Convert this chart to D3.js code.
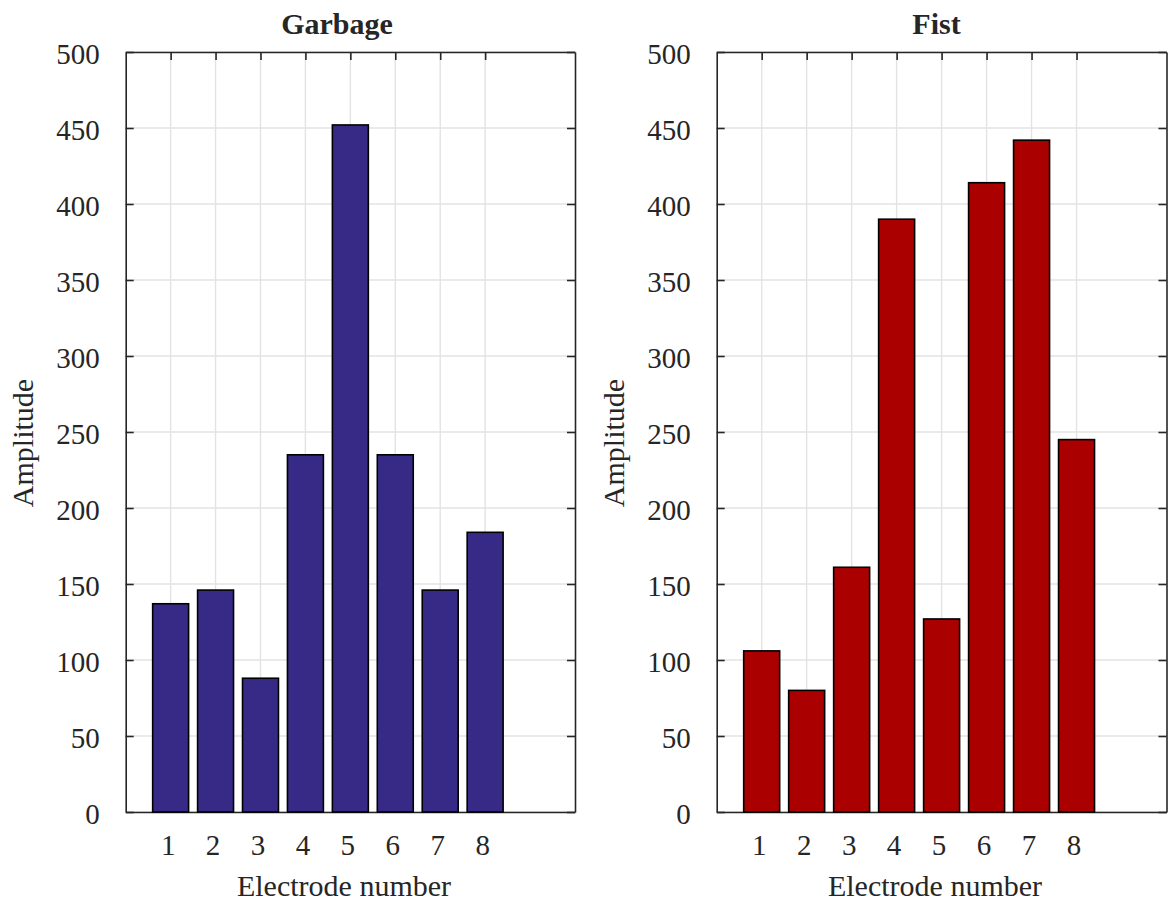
<!DOCTYPE html>
<html>
<head>
<meta charset="utf-8">
<script src="https://cdn.jsdelivr.net/npm/d3@7"></script>
<style>
  html, body { margin: 0; padding: 0; background: #fff; }
  svg { display: block; }
  text { font-family: "Liberation Serif", "Times New Roman", serif; fill: #262626; }
</style>
</head>
<body>
<svg id="chart" width="1169" height="903"></svg>
<script>
// Electrode indices and mean amplitude per electrode for each gesture
const electrodes = [1, 2, 3, 4, 5, 6, 7, 8];
const garbageAmp = [137, 146, 88, 235, 452, 235, 146, 184];
const fistAmp = [106, 80, 161, 390, 127, 414, 442, 245];
const yTicks = [0, 50, 100, 150, 200, 250, 300, 350, 400, 450, 500];
const titles = ["Garbage", "Fist"];
const xLabel = "Electrode number";
const yLabel = "Amplitude";

const svg = d3.select("#chart");
const FONT = 29;
const LABEL_FONT = 30;
const axisColor = "#262626";
const gridColor = "#e3e3e3";

const panels = [
  { left: 125.7, right: 575, values: garbageAmp, color: "#372a87", title: titles[0], titleX: 337, xLabelX: 344, yLabelX: 33 },
  { left: 716.7, right: 1166.5, values: fistAmp, color: "#aa0000", title: titles[1], titleX: 936.5, xLabelX: 935, yLabelX: 623.5 }
];
const plotTop = 52, plotBottom = 812;

panels.forEach(p => {
  const x = d3.scaleLinear().domain([0, 10]).range([p.left, p.right]);
  const y = d3.scaleLinear().domain([0, 500]).range([plotBottom, plotTop]);
  const g = svg.append("g");

  // grid
  g.append("g").selectAll("line").data(electrodes).join("line")
    .attr("x1", d => x(d)).attr("x2", d => x(d))
    .attr("y1", plotTop).attr("y2", plotBottom)
    .attr("stroke", gridColor).attr("stroke-width", 1.4);
  g.append("g").selectAll("line").data(yTicks).join("line")
    .attr("x1", p.left).attr("x2", p.right)
    .attr("y1", d => y(d)).attr("y2", d => y(d))
    .attr("stroke", gridColor).attr("stroke-width", 1.4);

  // axes with inward ticks
  const styleAxis = sel => {
    sel.selectAll("path.domain").attr("stroke", axisColor).attr("stroke-width", 1.6);
    sel.selectAll(".tick line").attr("stroke", axisColor).attr("stroke-width", 1.6);
    sel.selectAll(".tick text").attr("font-size", FONT).attr("fill", axisColor)
      .style("font-family", '"Liberation Serif", serif');
  };
  g.append("g").attr("transform", `translate(0,${plotBottom})`)
    .call(d3.axisBottom(x).tickValues(electrodes).tickSizeInner(-8).tickSizeOuter(0).tickPadding(22).tickFormat(d3.format("d")))
    .call(styleAxis)
    .call(s => s.selectAll(".tick text").attr("dx", -3));
  g.append("g").attr("transform", `translate(0,${plotTop})`)
    .call(d3.axisTop(x).tickValues(electrodes).tickSizeInner(-8).tickSizeOuter(0).tickFormat(""))
    .call(styleAxis);
  g.append("g").attr("transform", `translate(${p.left},0)`)
    .call(d3.axisLeft(y).tickValues(yTicks).tickSizeInner(-8).tickSizeOuter(0).tickPadding(26).tickFormat(d3.format("d")))
    .call(styleAxis)
    .call(s => s.selectAll(".tick text").attr("dy", "0.38em"));
  g.append("g").attr("transform", `translate(${p.right},0)`)
    .call(d3.axisRight(y).tickValues(yTicks).tickSizeInner(-8).tickSizeOuter(0).tickFormat(""))
    .call(styleAxis);

  // bars
  g.append("g").selectAll("rect").data(p.values).join("rect")
    .attr("x", (d, i) => x(electrodes[i] - 0.4))
    .attr("width", (d, i) => x(electrodes[i] + 0.4) - x(electrodes[i] - 0.4))
    .attr("y", d => y(d))
    .attr("height", d => y(0) - y(d))
    .attr("fill", p.color)
    .attr("stroke", "#000").attr("stroke-width", 1.6);

  // title and axis labels
  g.append("text").attr("x", p.titleX).attr("y", 34)
    .attr("text-anchor", "middle").attr("font-size", LABEL_FONT).attr("font-weight", "bold")
    .text(p.title);
  g.append("text").attr("x", p.xLabelX).attr("y", 896)
    .attr("text-anchor", "middle").attr("font-size", LABEL_FONT)
    .text(xLabel);
  g.append("text").attr("transform", `translate(${p.yLabelX},443) rotate(-90)`)
    .attr("text-anchor", "middle").attr("font-size", LABEL_FONT)
    .text(yLabel);
});
</script>
</body>
</html>
